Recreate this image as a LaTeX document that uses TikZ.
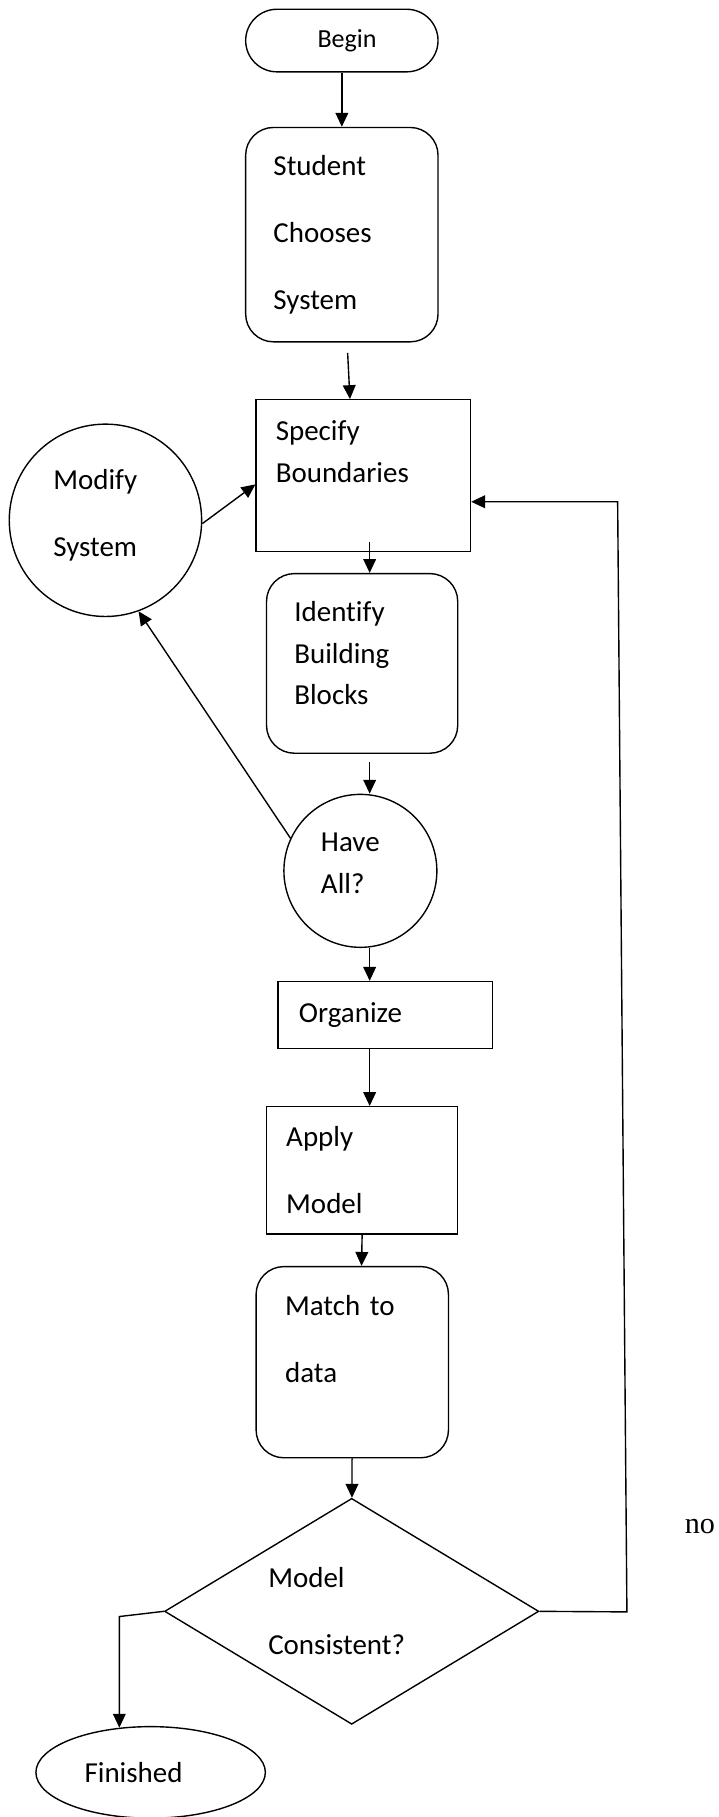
\documentclass[tikz,border=0pt]{standalone}
\usepackage{fontspec}
\setmainfont{Carlito}[Ligatures=NoCommon]
\newfontfamily\timesfont{Liberation Serif}
\usetikzlibrary{arrows.meta,shapes.geometric}
\newcommand{\toptext}[2]{\parbox[c][#1][t]{\linewidth}{\raggedright #2}}
\begin{document}
\begin{tikzpicture}[x=1pt,y=1pt,
    blk/.style={draw, line width=1.2pt, inner sep=2pt, align=left, font=\fontsize{25}{36}\selectfont},
    dbl/.style={font=\fontsize{25}{58}\selectfont},
    rbox/.style={blk, rounded corners=24pt},
    ring/.style={blk, circle},
    arr/.style={line width=1.2pt, -{Triangle[length=12pt,width=11pt]}}]
        %% Frame
        \useasboundingbox (0,0) rectangle (620,-1568);
        %% Nodes
        \node[blk, rounded corners=27pt, minimum width=166pt, minimum height=54pt, text width=42pt, font=\fontsize{22.5}{27}\selectfont] (begin) at (295,-35) {Begin};
        \node[rbox, dbl, minimum width=166pt, minimum height=185pt, text width=118pt] (stu) at (295,-202.5) {Student\\Chooses\\System};
        \node[blk, minimum width=185pt, minimum height=131pt, text width=151pt] (spec) at (313.5,-410.5) {\toptext{95pt}{Specify\\Boundaries}};
        \node[ring, dbl, minimum size=166pt, text width=90pt] (mod) at (91,-449) {\toptext{88pt}{Modify\\System}};
        \node[rbox, minimum width=165pt, minimum height=155pt, text width=117pt] (ident) at (312.5,-572.5) {\toptext{107pt}{Identify\\Building\\Blocks}};
        \node[ring, minimum size=132pt, text width=68pt] (have) at (311,-751.5) {\toptext{65pt}{Have\\All?}};
        \node[blk, minimum width=185pt, minimum height=58pt, text width=149pt] (org) at (332.5,-876) {Organize};
        \node[blk, dbl, minimum width=165pt, minimum height=110pt, text width=131pt] (app) at (312.5,-1010) {Apply\\Model};
        \node[rbox, dbl, minimum width=166pt, minimum height=165pt, text width=116pt] (match) at (304,-1175.5) {\toptext{115pt}{Match to\\data}};
        \node[blk, dbl, diamond, aspect=1.66, minimum width=323pt, minimum height=195pt, text width=144pt] (cons) at (303.5,-1390.5) {Model\\Consistent?};
        \node[blk, ellipse, minimum width=198pt, minimum height=79pt, text width=114pt] (fin) at (130,-1529.5) {Finished};
        \node[font=\timesfont\fontsize{26}{30}\selectfont] (no) at (604,-1317) {no};
        %% Bends
        \coordinate (loopb) at (541,-1391);
        \coordinate (loopt) at (533,-433);
        \coordinate (finb) at (103,-1395);
        %% Arrows
        \draw[arr] (begin) -- (stu);
        \draw[arr] ([xshift=5pt,yshift=-9pt]stu.south) -- ([xshift=-11.5pt]spec.north);
        \draw[arr] (mod.-2) -- ([yshift=-7.5pt]spec.west);
        \draw[arr] ([xshift=5.5pt,yshift=9pt]spec.south) -- ([xshift=6.5pt]ident.north);
        \draw[arr] ([xshift=6.5pt,yshift=-7pt]ident.south) -- ([xshift=8pt]have.north);
        \draw[arr] (have.155) -- (mod.-70);
        \draw[arr] ([xshift=8pt]have.south) -- ([xshift=-13.5pt]org.north);
        \draw[arr] ([xshift=-13.5pt]org.south) -- ([xshift=6.5pt]app.north);
        \draw[arr] (app.south) -- ([xshift=8pt]match.north);
        \draw[arr] (match) -- (cons);
        \draw[arr] (cons.east) -- (loopb) -- (loopt) -- (loopt -| spec.east);
        \draw[arr] (cons.west) -- (finb) -- (fin.125);
    \end{tikzpicture}
\end{document}
